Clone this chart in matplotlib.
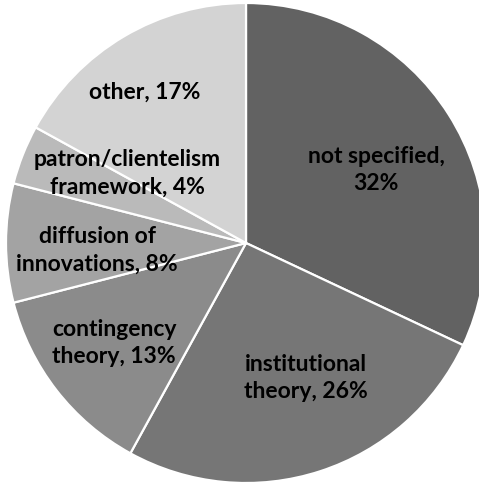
import matplotlib.pyplot as plt

# datos del gráfico
categorias = ["not specified", "institutional\ntheory", "contingency\ntheory",
              "diffusion of\ninnovations", "patron/clientelism\nframework", "other"]
porcentajes = [32, 26, 13, 8, 4, 17]
colores = ["#626262", "#767676", "#8b8b8b", "#a3a3a3", "#bababa", "#d3d3d3"]

# posiciones de las etiquetas (px en la imagen original)
pos_etiquetas = [(376, 170), (306, 378), (114, 343), (97, 250), (127, 173), (145, 92)]

W, H = 479, 483
cx, cy, R = 246, 243, 240

fig = plt.figure(figsize=(W / 100, H / 100), dpi=100)
ax = fig.add_axes([0, 0, 1, 1])
ax.pie(porcentajes, colors=colores, startangle=90, counterclock=False,
       radius=1, wedgeprops=dict(edgecolor="white", linewidth=1.6))
ax.set_xlim(-cx / R, (W - cx) / R)
ax.set_ylim((cy - H) / R, cy / R)
ax.set_aspect("equal")
ax.axis("off")

for cat, p, (px, py) in zip(categorias, porcentajes, pos_etiquetas):
    if cat == "not specified":
        txt = f"{cat},\n{p}%"
    else:
        txt = f"{cat}, {p}%"
    ax.text((px - cx) / R, (cy - py) / R, txt, ha="center", va="center",
            fontsize=16.5, fontweight="bold", family="Lato", linespacing=1.38,
            color="black")

fig.savefig("out.png", dpi=100)
